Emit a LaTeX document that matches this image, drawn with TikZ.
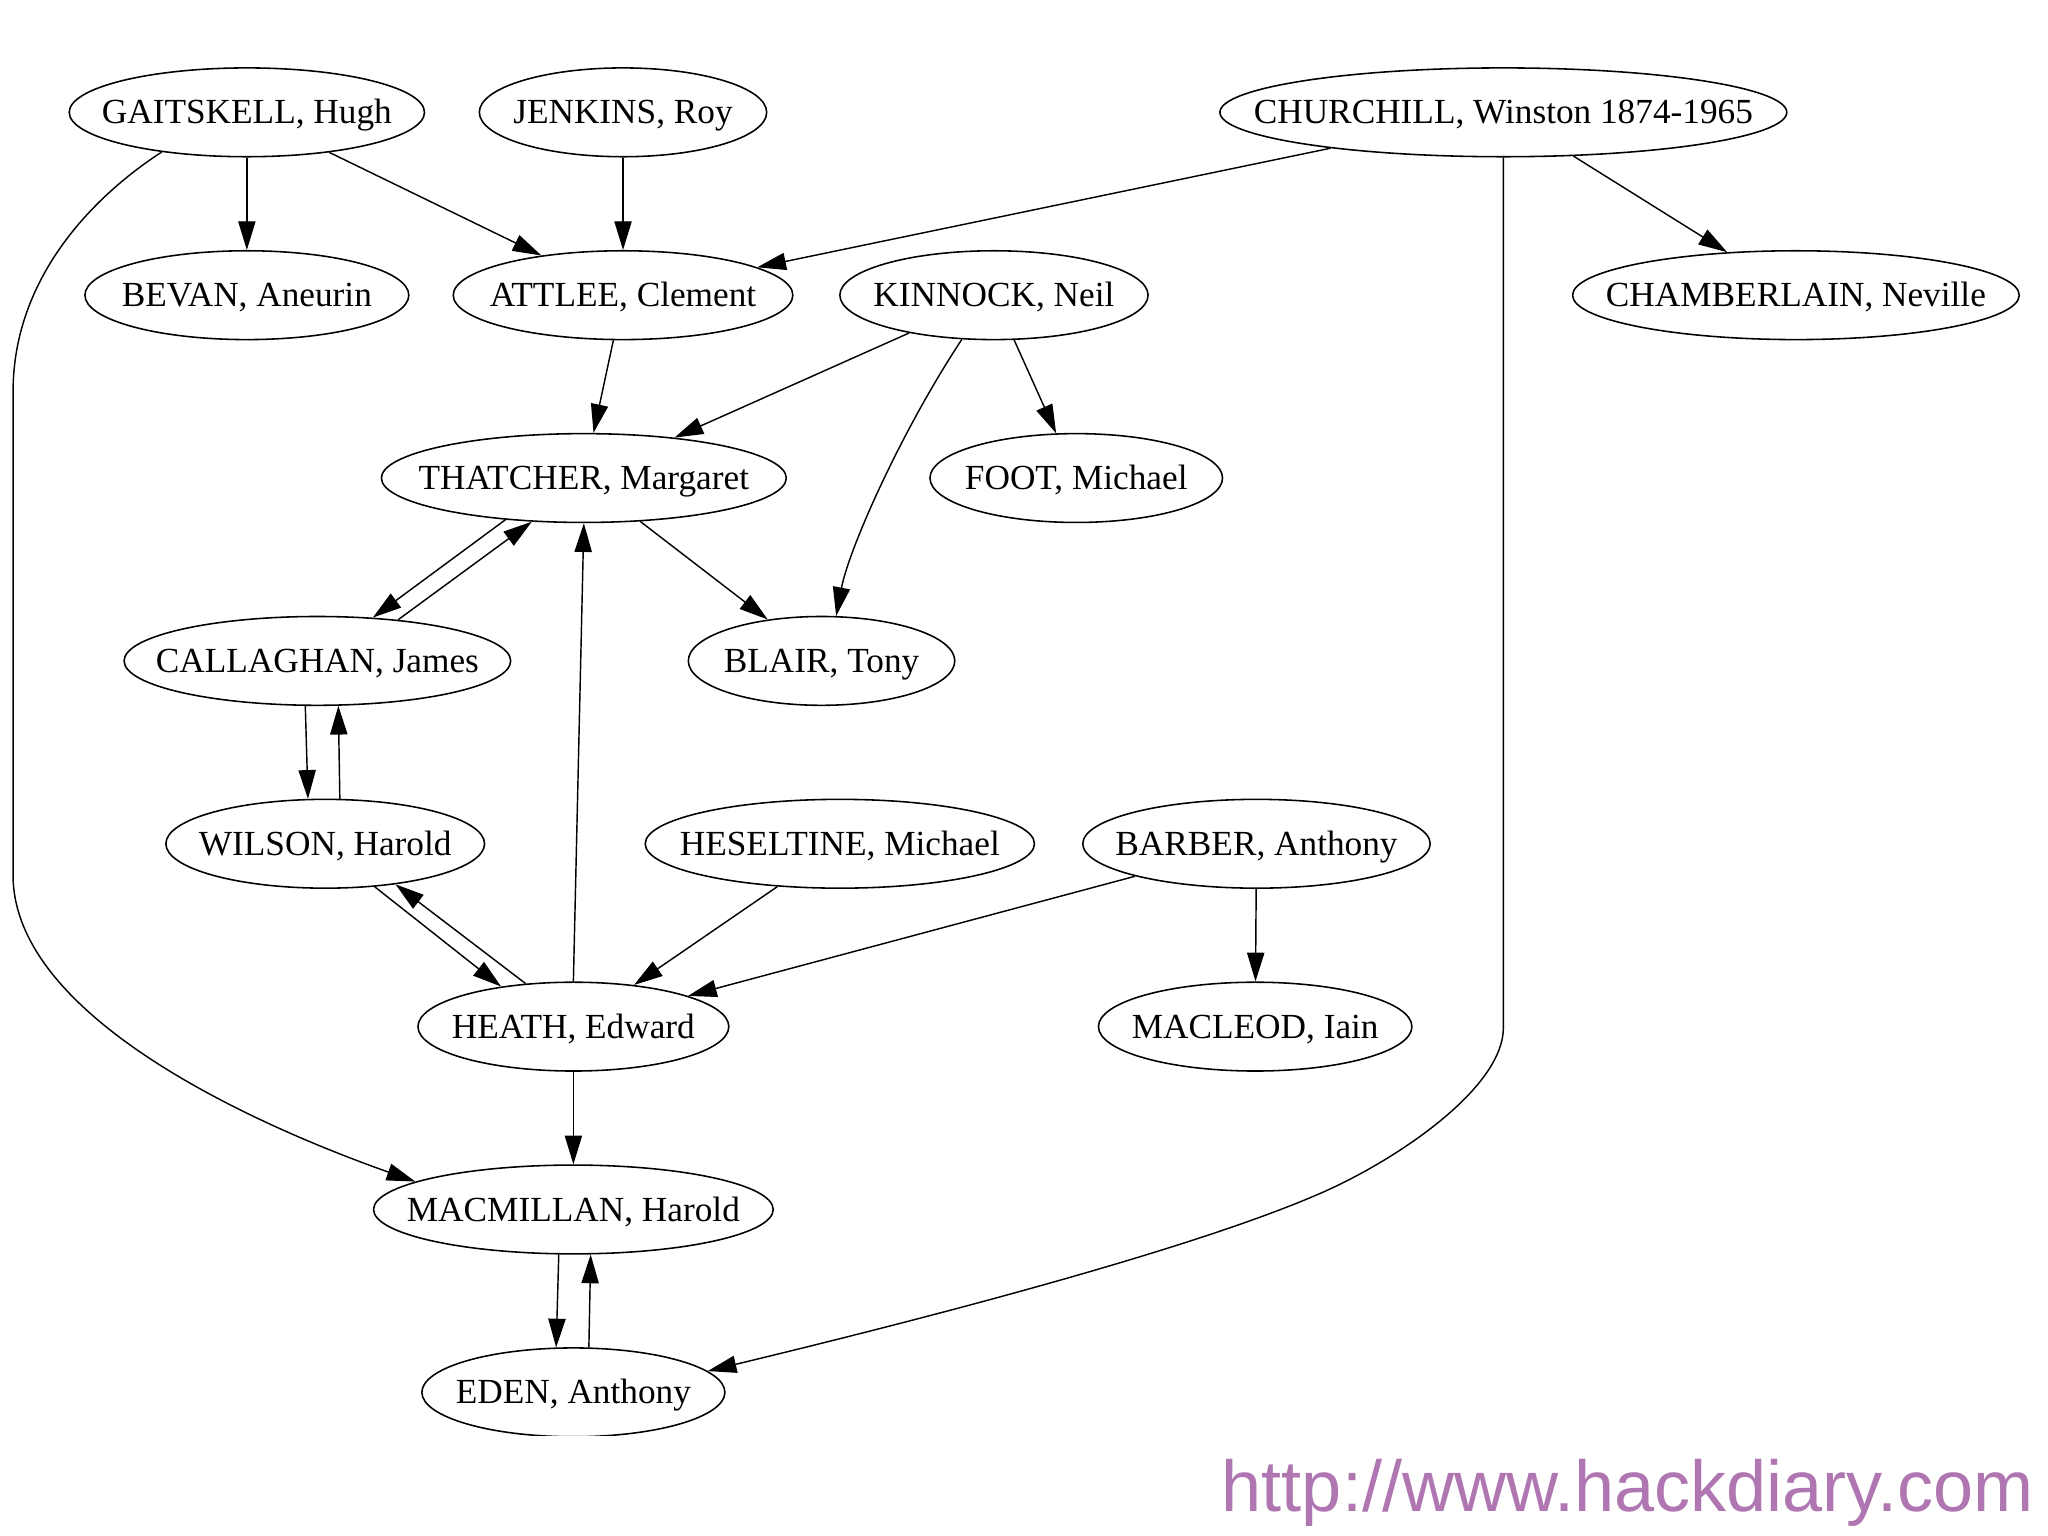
\documentclass[tikz,border=0pt]{standalone}
\usepackage{fontspec}
\setmainfont{Liberation Serif}
\newfontfamily\urlfont{Liberation Sans}
\usetikzlibrary{shapes.geometric,arrows.meta}
\definecolor{urlpurple}{RGB}{176,118,178}
\newcommand\pmtext[1]{\makebox[0pt]{\smash{\raisebox{-4.45pt}{#1}}}}
\begin{document}
\begin{tikzpicture}[x=0.5pt,y=-0.5pt,
  pm/.style={ellipse, draw, line width=0.6pt, inner sep=0pt, minimum height=34pt,
             font=\fontsize{13.5}{16}\selectfont},
  edge/.style={line width=0.55pt, -{Triangle[length=11pt,width=6.6pt]}},
  urltext/.style={anchor=base west, inner sep=0pt, text=urlpurple,
             font=\urlfont\fontsize{27.6}{30}\selectfont}]
\useasboundingbox (0,0) rectangle (1568,1176);
\begin{scope}
\clip (0,0) rectangle (1568,1099);
% nodes
\node[pm, minimum width=136pt] (gaitskell)   at (189,86)   {\pmtext{GAITSKELL, Hugh}};
\node[pm, minimum width=110pt] (jenkins)     at (477,86)   {\pmtext{JENKINS, Roy}};
\node[pm, minimum width=217pt] (churchill)   at (1151,86)  {\pmtext{CHURCHILL, Winston 1874-1965}};
\node[pm, minimum width=124pt] (bevan)       at (189,226)  {\pmtext{BEVAN, Aneurin}};
\node[pm, minimum width=130pt] (attlee)      at (477,226)  {\pmtext{ATTLEE, Clement}};
\node[pm, minimum width=118pt] (kinnock)     at (761,226)  {\pmtext{KINNOCK, Neil}};
\node[pm, minimum width=171pt] (chamberlain) at (1375,226) {\pmtext{CHAMBERLAIN, Neville}};
\node[pm, minimum width=155pt] (thatcher)    at (447,366)  {\pmtext{THATCHER, Margaret}};
\node[pm, minimum width=112pt] (foot)        at (824,366)  {\pmtext{FOOT, Michael}};
\node[pm, minimum width=148pt] (callaghan)   at (243,506)  {\pmtext{CALLAGHAN, James}};
\node[pm, minimum width=102pt] (blair)       at (629,506)  {\pmtext{BLAIR, Tony}};
\node[pm, minimum width=122pt] (wilson)      at (249,646)  {\pmtext{WILSON, Harold}};
\node[pm, minimum width=149pt] (heseltine)   at (643,646)  {\pmtext{HESELTINE, Michael}};
\node[pm, minimum width=133pt] (barber)      at (962,646)  {\pmtext{BARBER, Anthony}};
\node[pm, minimum width=119pt] (heath)       at (439,786)  {\pmtext{HEATH, Edward}};
\node[pm, minimum width=120pt] (macleod)     at (961,786)  {\pmtext{MACLEOD, Iain}};
\node[pm, minimum width=153pt] (macmillan)   at (439,926)  {\pmtext{MACMILLAN, Harold}};
\node[pm, minimum width=116pt] (eden)        at (439,1066) {\pmtext{EDEN, Anthony}};
% waypoints
\coordinate (c1) at (1151,787);
\coordinate (c2) at (1019,910);
\coordinate (g1) at (10,300);
\coordinate (g2) at (10,670);
% edges
\draw[edge] (gaitskell) -- (bevan);
\draw[edge] (gaitskell) -- (attlee);
\draw[edge] (jenkins) -- (attlee);
\draw[edge] (churchill) -- (attlee);
\draw[edge] (churchill) -- (chamberlain);
\draw[edge] (churchill.south) -- (c1) .. controls (1151,830) and (1079,882) .. (c2)
            .. controls (919,956) and (692,1013.5) .. (eden.9);
\draw[edge] (gaitskell.205) .. controls (75,148) and (10,210) .. (g1) -- (g2)
            .. controls (10,780) and (200,863) .. (macmillan.170);
\draw[edge] (attlee) -- (thatcher);
\draw[edge] (kinnock) -- (thatcher);
\draw[edge] (kinnock.234) .. controls (690,330) and (650,420) .. (blair.72);
\draw[edge] (kinnock) -- (foot);
\draw[edge] (thatcher.208) -- (callaghan.38);
\draw[edge] (callaghan.27) -- (thatcher.220);
\draw[edge] (thatcher) -- (blair);
\draw[edge] (callaghan.255) -- (wilson.111);
\draw[edge] (wilson.72) -- (callaghan.295);
\draw[edge] (heath.north) -- (thatcher.south);
\draw[edge] (wilson.319) -- (heath.151);
\draw[edge] (heath.138) -- (wilson.330);
\draw[edge] (heseltine) -- (heath);
\draw[edge] (barber) -- (heath);
\draw[edge] (barber) -- (macleod);
\draw[edge] (heath) -- (macmillan);
\draw[edge] (macmillan.252) -- (eden.111);
\draw[edge] (eden.71) -- (macmillan.291);
\end{scope}
\node[urltext] (url) at (935,1157) {http://www.hackdiary.com};
\end{tikzpicture}
\end{document}
